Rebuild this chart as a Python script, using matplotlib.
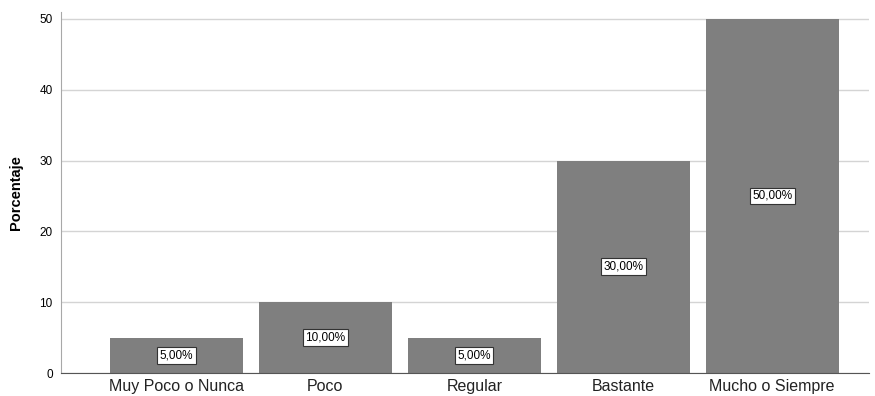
import matplotlib.pyplot as plt

categorias = ['Muy Poco o Nunca', 'Poco', 'Regular', 'Bastante', 'Mucho o Siempre']
porcentajes = [5, 10, 5, 30, 50]
etiquetas = ['5,00%', '10,00%', '5,00%', '30,00%', '50,00%']

plt.rcParams['font.family'] = ['Liberation Sans', 'DejaVu Sans']

fig = plt.figure(figsize=(8.75, 3.96), dpi=100)
ax = fig.add_axes([0.0697, 0.058, 0.923, 0.912])

x = range(len(categorias))
ax.bar(x, porcentajes, width=0.893, color='#7f7f7f', zorder=2)

# etiquetas de valor en el centro de cada barra
for xi, v, t in zip(x, porcentajes, etiquetas):
    ax.text(xi, v / 2, t, ha='center', va='center', fontsize=8.5, zorder=3,
            bbox=dict(boxstyle='square,pad=0.2', fc='white', ec='#333333', lw=0.8))

ax.set_xlim(-0.775, 4.648)
ax.set_ylim(0, 51)
ax.set_yticks([0, 10, 20, 30, 40, 50])
ax.set_xticks(list(x))
ax.set_xticklabels(categorias, fontsize=11.5, color='#222222')
ax.tick_params(axis='y', labelsize=8.5, length=0, pad=6)
ax.tick_params(axis='x', length=0, pad=4)
ax.yaxis.grid(True, color='#d4d4d4', lw=1, zorder=0)
ax.set_axisbelow(True)

for s in ['top', 'right']:
    ax.spines[s].set_visible(False)
ax.spines['left'].set_color('#a8a8a8')
ax.spines['bottom'].set_color('#555555')

ax.set_ylabel('Porcentaje', fontsize=10.5, fontweight='bold', labelpad=12)

fig.savefig('out.png', dpi=100)
